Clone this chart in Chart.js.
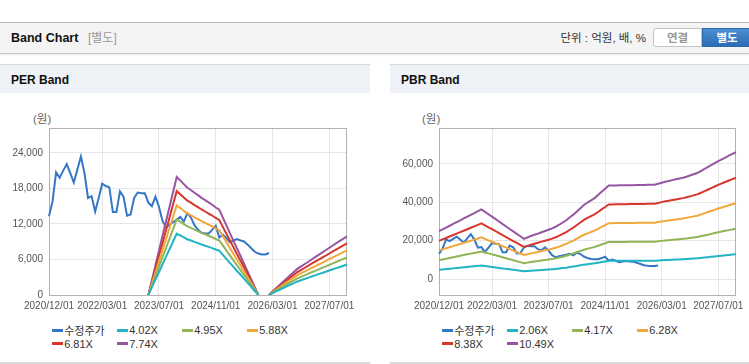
<!DOCTYPE html>
<html><head><meta charset="utf-8">
<script src="https://cdn.jsdelivr.net/npm/chart.js@4"></script>
<style>
html,body{margin:0;padding:0;background:#fff;width:749px;height:364px;overflow:hidden;font-family:"Liberation Sans","Noto Sans CJK KR",sans-serif;}
.abs{position:absolute;}
#hdr{left:0;top:22px;width:749px;height:30px;background:#f4f4f4;border-top:1px solid #bcbcbc;border-bottom:1px solid #c6c6c6;box-shadow:0 1px 2px rgba(0,0,0,0.10);}
#title{left:11px;top:22px;line-height:32px;font-size:12.5px;font-weight:bold;color:#111;}
#sub{left:88px;top:22px;line-height:32px;font-size:12px;color:#999;}
#unit{right:103px;top:22px;line-height:32px;font-size:11.5px;color:#333;}
.btn{top:28px;height:19px;line-height:19px;font-size:11.5px;font-weight:bold;text-align:center;box-sizing:border-box;}
#b1{left:653px;width:49px;background:#fff;border:1px solid #c4c4c4;border-radius:3px 0 0 3px;color:#999;}
#b2{left:702px;width:50px;background:linear-gradient(#4b8dd2,#2e6db6);border:1px solid #2b67ad;color:#fff;}
.ph{top:64px;height:29px;background:#eef1f6;border-top:1px solid #d8d8d8;box-sizing:border-box;}
.pt{top:64px;line-height:32px;font-size:12px;font-weight:bold;color:#111;}
.pb{top:362px;height:2px;background:#dcdcdc;}
.unitlbl{top:110px;font-size:11.5px;color:#666;}
.legend{top:323.5px;display:grid;grid-template-columns:repeat(4,65px);grid-auto-rows:13.4px;font-size:11px;color:#333;}
.li{display:flex;align-items:center;white-space:nowrap;}
.mk{width:11px;height:3px;margin-right:1.5px;flex:none;}
canvas{position:absolute;}
</style></head>
<body>
<div id="hdr" class="abs"></div>
<div id="title" class="abs">Band Chart</div>
<div id="sub" class="abs">[별도]</div>
<div id="unit" class="abs">단위 : 억원, 배, %</div>
<div id="b1" class="abs btn">연결</div>
<div id="b2" class="abs btn">별도</div>

<div class="abs ph" style="left:0;width:370px"></div>
<div class="abs pt" style="left:11px">PER Band</div>
<div class="abs ph" style="left:390px;width:359px"></div>
<div class="abs pt" style="left:401px">PBR Band</div>
<div class="abs pb" style="left:0;width:370px"></div>
<div class="abs pb" style="left:390px;width:359px"></div>

<div class="abs unitlbl" style="left:33px">(원)</div>
<div class="abs unitlbl" style="left:422px">(원)</div>

<canvas id="per" width="370" height="222" style="left:0;top:93px"></canvas>
<canvas id="pbr" width="359" height="222" style="left:390px;top:93px"></canvas>

<div id="perLegend" class="abs legend" style="left:51.7px"></div>
<div id="pbrLegend" class="abs legend" style="left:441.7px"></div>

<script>
// ---- categories (monthly) ----
const months = [
'2020/12/01',
'2021/01/01','2021/02/01','2021/03/01','2021/04/01','2021/05/01','2021/06/01','2021/07/01','2021/08/01','2021/09/01','2021/10/01','2021/11/01','2021/12/01',
'2022/01/01','2022/02/01','2022/03/01','2022/04/01','2022/05/01','2022/06/01','2022/07/01','2022/08/01','2022/09/01','2022/10/01','2022/11/01','2022/12/01',
'2023/01/01','2023/02/01','2023/03/01','2023/04/01','2023/05/01','2023/06/01','2023/07/01','2023/08/01','2023/09/01','2023/10/01','2023/11/01','2023/12/01',
'2024/01/01','2024/02/01','2024/03/01','2024/04/01','2024/05/01','2024/06/01','2024/07/01','2024/08/01','2024/09/01','2024/10/01','2024/11/01','2024/12/01',
'2025/01/01','2025/02/01','2025/03/01','2025/04/01','2025/05/01','2025/06/01','2025/07/01','2025/08/01','2025/09/01','2025/10/01','2025/11/01','2025/12/01',
'2026/01/01','2026/02/01','2026/03/01','2026/04/01','2026/05/01','2026/06/01','2026/07/01','2026/08/01','2026/09/01','2026/10/01','2026/11/01','2026/12/01',
'2027/01/01','2027/02/01','2027/03/01','2027/04/01','2027/05/01','2027/06/01','2027/07/01','2027/08/01','2027/09/01','2027/10/01','2027/11/01','2027/12/01'
];
const xTickLabels = ['2020/12/01','2022/03/01','2023/07/01','2024/11/01','2026/03/01','2027/07/01'];
const perYTicks = [0, 6000, 12000, 18000, 24000];
const pbrYTicks = [0, 20000, 40000, 60000];

// ---- 수정주가 (adjusted price) ----
const price = [
13300,15800,20700,19800,21000,22100,20600,19000,21200,23400,
20600,16400,16700,14100,16400,18800,18400,18200,14000,14000,
17500,16600,13400,13600,16400,17300,17200,17200,15600,15000,
16600,14900,12500,11400,11900,12300,12700,13200,12400,13800,
13100,11800,11000,10500,10400,10400,11000,11700,9700,10200,
9600,8900,9200,9450,9200,9050,8500,7900,7300,7000,
6850,6850,7100,null,null,null,null,null,null,null,
null,null,null,null,null,null,null,null,null,null,
null,null,null,null,null
];

// ---- PER band lines ----
const perNames = ['4.02X','4.95X','5.88X','6.81X','7.74X'];
const per402 = [
null,null,null,null,null,null,null,null,null,null,null,null,null,null,null,null,null,null,null,null,null,null,null,null,null,null,null,null,
0,1290,2590,3880,5190,6470,7760,9070,10350,10050,9730,9410,9210,8970,8760,8520,8320,8120,7920,7680,7480,6790,6110,5430,4740,4060,3420,2730,2050,1370,680,0,
null,null,
0,300,600,880,1170,1450,1730,2010,2290,2490,2690,2890,3120,3320,3520,3720,3920,4140,4340,4540,4740,4950,5150
];
const per495 = [
null,null,null,null,null,null,null,null,null,null,null,null,null,null,null,null,null,null,null,null,null,null,null,null,null,null,null,null,
0,1580,3190,4780,6390,7970,9550,11160,12750,12380,11980,11580,11340,11040,10790,10490,10250,10000,9750,9460,9210,8370,7520,6680,5840,5000,4210,3370,2530,1680,840,0,
null,null,
0,370,740,1090,1440,1780,2130,2480,2820,3070,3320,3560,3840,4080,4330,4580,4830,5100,5350,5590,5840,6090,6340
];
const per588 = [
null,null,null,null,null,null,null,null,null,null,null,null,null,null,null,null,null,null,null,null,null,null,null,null,null,null,null,null,
0,1880,3790,5670,7590,9470,11350,13260,15140,14700,14230,13760,13470,13110,12820,12470,12170,11880,11580,11230,10940,9940,8940,7940,6940,5940,5000,4000,3000,2000,1000,0,
null,null,
0,440,880,1290,1710,2120,2530,2940,3350,3650,3940,4230,4560,4850,5150,5440,5730,6060,6350,6640,6940,7230,7530
];
const per681 = [
null,null,null,null,null,null,null,null,null,null,null,null,null,null,null,null,null,null,null,null,null,null,null,null,null,null,null,null,
0,2180,4390,6570,8790,10960,13140,15360,17540,17030,16480,15940,15600,15190,14850,14440,14100,13760,13420,13010,12670,11510,10350,9190,8040,6880,5790,4630,3470,2320,1160,0,
null,null,
0,510,1020,1500,1970,2450,2930,3410,3880,4220,4560,4900,5280,5620,5960,6300,6640,7010,7360,7700,8040,8380,8720
];
const per774 = [
null,null,null,null,null,null,null,null,null,null,null,null,null,null,null,null,null,null,null,null,null,null,null,null,null,null,null,null,
0,2480,4990,7470,9990,12460,14940,17450,19930,19350,18730,18110,17730,17260,16870,16410,16020,15640,15250,14780,14400,13080,11770,10450,9130,7820,6580,5260,3950,2630,1320,0,
null,null,
0,580,1160,1700,2250,2790,3330,3870,4410,4800,5190,5570,6000,6390,6770,7160,7550,7970,8360,8750,9130,9520,9910
];

// ---- PBR band lines ----
const pbrNames = ['2.06X','4.17X','6.28X','8.38X','10.49X'];
const pbr206 = [
4900,5090,5270,5460,5640,5830,6020,6200,6390,6570,
6760,6940,7130,6880,6630,6390,6140,5890,5620,5380,
5130,4880,4640,4390,4120,4260,4410,4530,4660,4800,
4920,5050,5190,5360,5560,5790,6020,6320,6590,6920,
7250,7580,7830,8050,8280,8590,8920,9230,9560,9560,
9570,9580,9580,9590,9600,9600,9610,9620,9620,9630,
9640,9640,9740,9850,9950,10030,10110,10200,10280,10360,
10460,10590,10710,10840,11020,11230,11430,11640,11850,12050,
12240,12420,12610,12790,12960
];
const pbr417 = [
9920,10300,10680,11050,11430,11800,12180,12550,12930,13300,
13680,14050,14430,13930,13430,12930,12430,11930,11380,10880,
10380,9880,9380,8880,8340,8630,8920,9170,9420,9720,
9970,10220,10510,10840,11260,11720,12180,12800,13340,14010,
14680,15350,15850,16300,16760,17390,18060,18680,19350,19350,
19370,19390,19390,19410,19430,19430,19450,19470,19470,19490,
19520,19520,19720,19930,20140,20310,20470,20640,20810,20980,
21180,21430,21680,21930,22310,22730,23140,23560,23980,24390,
24770,25150,25520,25900,26230
];
const pbr628 = [
14950,15510,16080,16640,17210,17770,18340,18900,19470,20030,
20600,21160,21730,20980,20220,19470,18710,17960,17140,16390,
15640,14880,14130,13380,12560,13000,13440,13820,14190,14630,
15010,15390,15830,16330,16960,17650,18340,19280,20100,21100,
22110,23110,23860,24550,25250,26190,27190,28130,29140,29140,
29170,29200,29200,29230,29260,29260,29300,29330,29330,29360,
29390,29390,29700,30020,30330,30580,30830,31090,31340,31590,
31900,32280,32660,33030,33600,34230,34850,35480,36110,36740,
37300,37870,38430,39000,39500
];
const pbr838 = [
19940,20700,21450,22210,22960,23720,24470,25220,25980,26730,
27490,28240,28990,27990,26980,25980,24970,23970,22880,21870,
20870,19860,18860,17850,16760,17350,17930,18440,18940,19530,
20030,20530,21120,21790,22630,23550,24470,25730,26820,28160,
29500,30840,31840,32770,33690,34940,36290,37540,38880,38880,
38930,38970,38970,39010,39050,39050,39090,39130,39130,39180,
39220,39220,39640,40060,40480,40810,41150,41480,41820,42150,
42570,43070,43580,44080,44830,45670,46510,47350,48190,49020,
49780,50530,51290,52040,52710
];
const pbr1049 = [
24970,25910,26850,27800,28740,29690,30630,31580,32520,33460,
34410,35350,36300,35040,33780,32520,31260,30000,28640,27380,
26120,24860,23600,22340,20980,21710,22450,23080,23710,24440,
25070,25700,26430,27270,28320,29480,30630,32200,33570,35250,
36920,38600,39860,41020,42170,43740,45420,47000,48670,48670,
48730,48780,48780,48830,48880,48880,48940,48990,48990,49040,
49090,49090,49620,50140,50670,51090,51510,51930,52350,52760,
53290,53920,54550,55180,56120,57170,58220,59270,60320,61370,
62310,63250,64200,65140,65980
];

const priceName = '수정주가';
const colors = ['#3477c7','#22b3c5','#8fb556','#f2a73b','#d6362c','#9656a2'];
const axisFont = { family: '"Liberation Sans", sans-serif', size: 10 };

const frame = {
  id: 'frame',
  beforeDatasetsDraw(c) {
    const a = c.chartArea, ctx = c.ctx;
    ctx.save();
    ctx.strokeStyle = '#b2b2b2';
    ctx.lineWidth = 1;
    ctx.strokeRect(Math.round(a.left) + 0.5, Math.round(a.top) + 0.5, Math.round(a.right - a.left) - 1, Math.round(a.bottom - a.top));
    ctx.restore();
  }
};

function makeDatasets(bands, names) {
  const ds = [{ label: priceName, data: price, borderColor: colors[0], order: 9 }];
  bands.forEach((b, i) => ds.push({ label: names[i], data: b, borderColor: colors[i + 1], order: i }));
  return ds;
}

function makeChart(id, datasets, yMin, yMax, yTicks, padRight) {
  const tickIdx = xTickLabels.map(l => months.indexOf(l));
  return new Chart(document.getElementById(id), {
    type: 'line',
    data: { labels: months, datasets },
    options: {
      responsive: false, animation: false, devicePixelRatio: 1,
      layout: { padding: { top: 35, right: padRight, left: 0, bottom: 0 } },
      plugins: { legend: { display: false }, tooltip: { enabled: false } },
      elements: { point: { radius: 0 }, line: { borderWidth: 2, tension: 0 } },
      scales: {
        x: {
          type: 'category',
          grid: { color: '#e6e6e6', drawTicks: false },
          border: { display: false },
          ticks: { autoSkip: false, maxRotation: 0, padding: 5, color: '#555', font: axisFont },
          afterBuildTicks: s => { s.ticks = tickIdx.map(i => ({ value: i })); },
          afterFit: s => { s.height = 20; }
        },
        y: {
          min: yMin, max: yMax,
          grid: { color: '#e6e6e6', drawTicks: false },
          border: { display: false },
          ticks: { padding: 6, color: '#555', font: axisFont, callback: v => Number(v).toLocaleString('en-US') },
          afterBuildTicks: s => { s.ticks = yTicks.map(v => ({ value: v })); },
          afterFit: s => { s.width = 49; }
        }
      }
    },
    plugins: [frame]
  });
}

function makeLegend(el, names) {
  const all = [priceName].concat(names);
  all.forEach((n, i) => {
    const it = document.createElement('div'); it.className = 'li';
    const mk = document.createElement('span'); mk.className = 'mk'; mk.style.background = colors[i];
    const tx = document.createElement('span'); tx.textContent = n;
    it.appendChild(mk); it.appendChild(tx); el.appendChild(it);
  });
}

makeChart('per', makeDatasets([per402, per495, per588, per681, per774], perNames), 0, 28200, perYTicks, 23);
makeChart('pbr', makeDatasets([pbr206, pbr417, pbr628, pbr838, pbr1049], pbrNames), -8200, 78600, pbrYTicks, 12);
makeLegend(document.getElementById('perLegend'), perNames);
makeLegend(document.getElementById('pbrLegend'), pbrNames);
</script>
</body></html>
